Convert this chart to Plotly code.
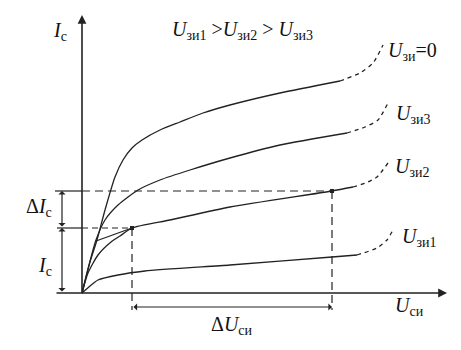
import plotly.graph_objects as go

# Output characteristics of a FET: drain current I_c vs drain-source voltage U_си
# (values in arbitrary units)
ugs0_u = [0, 0.4, 0.75, 1.15, 1.65, 2.05, 2.5, 3.0, 3.9, 4.9, 6.05, 7.4, 9.9, 12.9]
ugs0_i = [0, 1.55, 2.65, 4.15, 5.8, 6.65, 7.25, 7.65, 8.15, 8.55, 9.0, 9.4, 10.0, 10.6]
ugs0_du = [12.9, 13.9, 14.55, 15.05]
ugs0_di = [10.6, 11.0, 11.5, 12.4]

ugs3_u = [0, 0.35, 0.7, 1.15, 1.8, 2.8, 3.9, 5.4, 7.4, 9.9, 13.25]
ugs3_i = [0, 1.4, 2.65, 3.65, 4.4, 5.15, 5.65, 6.15, 6.75, 7.4, 8.0]
ugs3_du = [13.25, 14.15, 14.8, 15.3]
ugs3_di = [8.0, 8.3, 8.65, 9.5]

ugs2_u = [0, 0.3, 0.8, 1.45, 1.9, 2.5, 4.4, 7.4, 12.5, 13.55]
ugs2_i = [0, 1.0, 1.9, 2.55, 2.85, 3.25, 3.65, 4.3, 5.1, 5.3]
ugs2_du = [13.55, 14.3, 14.75, 15.3]
ugs2_di = [5.3, 5.55, 5.8, 6.5]

ugs1_u = [0, 0.4, 0.8, 1.8, 3.15, 7.4, 12.5, 13.75]
ugs1_i = [0, 0.35, 0.65, 0.9, 1.1, 1.4, 1.8, 1.9]
ugs1_du = [13.75, 14.75, 15.25, 15.55]
ugs1_di = [1.9, 2.25, 2.65, 3.15]

tangent_u = [0.7, 2.5]
tangent_i = [2.6, 3.25]

# operating points
U1, U2 = 2.5, 12.5
I1, I2 = 3.25, 5.1

# axis extents / dimension line positions
x_axis_start, x_axis_end = -1.35, 18.25
y_axis_end = 13.9
dim_u = -1.0      # x of the vertical ΔI / I dimension line
dim_i = -0.7      # y of the horizontal ΔU dimension line
drop_end = -0.85  # bottom of vertical dashed drop lines

INK = "#222222"
FONT = "Times New Roman"

fig = go.Figure()

def line(xs, ys, dash="solid", width=1.3, spline=True):
    fig.add_trace(go.Scatter(
        x=xs, y=ys, mode="lines",
        line=dict(color=INK, width=width, dash=dash,
                  shape="spline" if spline else "linear", smoothing=0.6),
        hoverinfo="skip", showlegend=False))

for su, si, du, di in [(ugs0_u, ugs0_i, ugs0_du, ugs0_di),
                       (ugs3_u, ugs3_i, ugs3_du, ugs3_di),
                       (ugs2_u, ugs2_i, ugs2_du, ugs2_di),
                       (ugs1_u, ugs1_i, ugs1_du, ugs1_di)]:
    line(su, si)
    line(du, di, dash="4px,4px")

line(tangent_u, tangent_i, spline=False)

# projection lines
line([x_axis_start, 0], [I2, I2], width=1.2, spline=False)
line([0, U2], [I2, I2], dash="8px,5px", width=1.2, spline=False)
line([x_axis_start + 0.1, 0], [I1, I1], width=1.2, spline=False)
line([0, U1], [I1, I1], dash="6px,4px", width=1.2, spline=False)
line([U1, U1], [I1, drop_end], dash="8px,5px", width=1.2, spline=False)
line([U2, U2], [I2, drop_end], dash="8px,5px", width=1.2, spline=False)

# operating point markers
fig.add_trace(go.Scatter(x=[U1, U2], y=[I1, I2], mode="markers",
                         marker=dict(color=INK, size=4, symbol="square"),
                         hoverinfo="skip", showlegend=False))

ann = []
def arrow(x0, y0, x1, y1, both=False, width=1.2, size=1.0, head=1):
    ann.append(dict(x=x1, y=y1, ax=x0, ay=y0, xref="x", yref="y",
                    axref="x", ayref="y", text="", showarrow=True,
                    arrowhead=head, startarrowhead=head,
                    arrowsize=size, startarrowsize=size,
                    arrowwidth=width, arrowcolor=INK,
                    arrowside="end+start" if both else "end",
                    standoff=0, startstandoff=0))

# axes
arrow(x_axis_start, 0, x_axis_end, 0, width=1.6, size=1.1, head=2)
arrow(0, 0, 0, y_axis_end, width=1.6, size=1.1, head=2)
# dimension arrows
arrow(dim_u, I1, dim_u, I2, both=True)
arrow(dim_u, 0, dim_u, I1, both=True)
arrow(U1, dim_i, U2, dim_i, both=True)

def text(x, y, s, size=20, anchor="center"):
    ann.append(dict(x=x, y=y, xref="x", yref="y", text=s, showarrow=False,
                    xanchor=anchor, yanchor="middle",
                    font=dict(family=FONT, size=size, color="#111111")))

text(-1.1, 13.1, "<i>I</i><sub>с</sub>")
text(8.0, 13.15, "<i>U</i><sub>зи1</sub> ><i>U</i><sub>зи2</sub> > <i>U</i><sub>зи3</sub>", size=20)
text(15.2, 12.1, "<i>U</i><sub>зи</sub>=0", anchor="left")
text(15.6, 8.95, "<i>U</i><sub>зи3</sub>", anchor="left")
text(15.55, 6.3, "<i>U</i><sub>зи2</sub>", anchor="left")
text(15.9, 2.8, "<i>U</i><sub>зи1</sub>", anchor="left")
text(16.35, -0.65, "<i>U</i><sub>си</sub>")
text(7.5, -1.6, "Δ<i>U</i><sub>си</sub>")
text(-2.15, 4.3, "Δ<i>I</i><sub>с</sub>")
text(-1.85, 1.35, "<i>I</i><sub>с</sub>")

fig.update_layout(
    width=461, height=350,
    margin=dict(l=0, r=0, t=0, b=0),
    paper_bgcolor="white", plot_bgcolor="white",
    font=dict(family=FONT),
    xaxis=dict(range=[-4.1, 18.95], visible=False, fixedrange=True),
    yaxis=dict(range=[-2.85, 14.65], visible=False, fixedrange=True),
    annotations=ann,
    showlegend=False,
)

fig.write_html("out.html")
